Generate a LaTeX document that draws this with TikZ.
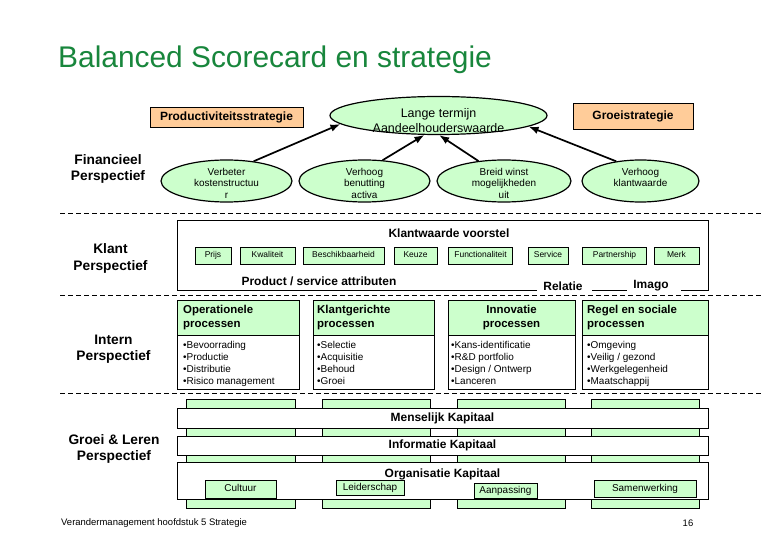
\documentclass[tikz,border=0pt]{standalone}
\usepackage{fontspec}
\setmainfont{Liberation Sans}
\usepackage{xcolor}
\usepackage{tikz}
\usetikzlibrary{shapes.geometric, arrows.meta}

\definecolor{titlegreen}{RGB}{24,134,60}
\definecolor{palegreen}{RGB}{204,255,204}
\definecolor{paleorange}{RGB}{255,204,153}
\newcommand{\setfs}[2]{\fontsize{#1}{#2}\selectfont}

\begin{document}
\begin{tikzpicture}[x=1bp, y=-1bp,
    oval/.style={ellipse, draw, line width=1.2bp, fill=palegreen, inner sep=0pt},
    ovaltxt/.style={anchor=north, align=center, inner sep=0pt, font=\setfs{10}{11.5}},
    strat/.style={draw, line width=0.8bp, fill=paleorange, inner sep=0pt, font=\bfseries\setfs{12}{14}},
    persp/.style={align=center, font=\bfseries\setfs{13.8}{16.5}},
    attr/.style={draw, line width=0.8bp, fill=palegreen, inner sep=0pt, minimum height=17bp,
                 text height=6.5bp, text depth=1.5bp, font=\setfs{8.5}{10}},
    grp/.style={inner sep=1bp, font=\bfseries\setfs{12}{14}},
    phead/.style={align=left, inner sep=2bp, font=\bfseries\setfs{11.5}{14}},
    items/.style={anchor=north west, align=left, inner sep=2bp, font=\setfs{10}{12}},
    band/.style={draw, line width=0.8bp, fill=white, inner sep=0pt, minimum width=531bp, font=\bfseries\setfs{12}{14}},
    divline/.style={line width=0.8bp, dash pattern=on 5bp off 3bp},
    goal/.style={-{Latex[length=10bp, width=7.5bp]}, line width=1.7bp},
]
\path[fill=white, use as bounding box] (0,0) rectangle (780,540);

% ---- Titel ----
\node[anchor=base west, inner sep=0pt, text=titlegreen, font=\setfs{30}{36}] (titel) at (58,68) {Balanced Scorecard en strategie};

% ---- Perspectieven ----
\node[persp] (finp) at (108,169) {Financieel\\Perspectief};
\node[persp] (klantp) at (110.5,258.5) {Klant\\Perspectief};
\node[persp] (internp) at (113.5,349) {Intern\\Perspectief};
\node[persp] (groeip) at (114,449) {Groei \& Leren\\Perspectief};

\foreach \yy in {213,295,393} {
    \draw[divline] (60,\yy) -- (763,\yy);
}

% ---- Financieel ----
\node[strat, minimum width=153bp, minimum height=20bp] (prod) at (226.5,117) {Productiviteitsstrategie};
\node[strat, minimum width=120bp, minimum height=26bp] (groei) at (633,116) {Groeistrategie};

\node[oval, minimum width=217bp, minimum height=38bp] (lange) at (438.5,115.5) {};
\node[ovaltxt, font=\setfs{12.5}{15}] (lange-t) at ([yshift=7.5bp]lange.center) {Lange termijn\\Aandeelhouderswaarde};

\foreach \nm/\cx/\w/\txt in {verbeter/226.5/131/{Verbeter\\kostenstructuu\\r},
                             benutting/364.5/131/{Verhoog\\benutting\\activa},
                             winst/504/134/{Breid winst\\mogelijkheden\\uit},
                             klant/640.5/117/{Verhoog\\klantwaarde}} {
    \node[oval, minimum width=\w bp, minimum height=42bp] (\nm) at (\cx,181) {};
    \node[ovaltxt] (\nm-t) at ([yshift=13bp]\nm.center) {\txt};
}

\draw[goal] (verbeter.36) -- (lange.185);
\draw[goal] (benutting.49) -- (lange.234);
\draw[goal] (winst.142) -- (lange.272);
\draw[goal] (klant.141) -- (lange.353);

% ---- Klant ----
\draw[line width=0.8bp] (537,290) -- (177,290) -- (177,220) -- (708,220) -- (708,290) -- (681,290);
\draw[line width=0.8bp] (592,290) -- (627,290);
\node[grp] (voorstel) at (449,233) {Klantwaarde voorstel};
\foreach \nm/\cx/\w/\txt in {prijs/213/36/Prijs, kwaliteit/267.5/55/Kwaliteit, beschik/343.5/81/Beschikbaarheid,
                             keuze/415.5/43/Keuze, functie/480.5/64/Functionaliteit, service/548/40/Service,
                             partner/614.5/64/Partnership, merk/676.5/45/Merk} {
    \node[attr, minimum width=\w bp] (\nm) at (\cx,255.5) {\txt};
}
\node[grp] (attrib) at (319,281) {Product / service attributen};
\node[grp] (relatie) at (563,286) {Relatie};
\node[grp] (imago) at (651,286) {Imago};

% ---- Intern ----
\foreach \xa/\xb in {177/299, 313/434, 448/575, 582/708} {
    \draw[line width=0.8bp, fill=palegreen] (\xa,300) rectangle (\xb,335);
    \draw[line width=0.8bp] (\xa,335) rectangle (\xb,389);
}
\node[phead, anchor=west] (opkop) at (181,318) {Operationele\\processen};
\node[phead, anchor=west] (klkop) at (315,318) {Klantgerichte\\processen};
\node[phead, align=center] (inkop) at (511.5,318) {Innovatie\\processen};
\node[phead, anchor=west] (rgkop) at (585,318) {Regel en sociale\\processen};

\node[items] (oplijst) at (181,339) {\textbullet Bevoorrading\\\textbullet Productie\\\textbullet Distributie\\\textbullet Risico management};
\node[items] (kllijst) at (315,339) {\textbullet Selectie\\\textbullet Acquisitie\\\textbullet Behoud\\\textbullet Groei};
\node[items] (inlijst) at (449,339) {\textbullet Kans-identificatie\\\textbullet R\&D portfolio\\\textbullet Design / Ontwerp\\\textbullet Lanceren};
\node[items] (rglijst) at (585,339) {\textbullet Omgeving\\\textbullet Veilig / gezond\\\textbullet Werkgelegenheid\\\textbullet Maatschappij};

% ---- Groei & Leren ----
\foreach \xa/\xb in {186/295, 322/430, 457/565, 591/699} {
    \draw[line width=0.8bp, fill=palegreen] (\xa,399) rectangle (\xb,508);
}
\node[band, minimum height=20bp] (mens) at (442.5,418) {Menselijk Kapitaal};
\node[band, minimum height=19bp] (info) at (442.5,445.5) {Informatie Kapitaal};
\draw[line width=0.8bp, fill=white] (177,462) rectangle (708,499);
\node[grp] (organisatie) at (442.5,474) {Organisatie Kapitaal};

\node[attr, minimum width=71bp, minimum height=18bp, font=\setfs{10}{12}] (cultuur) at (240.5,489) {Cultuur};
\node[attr, minimum width=68bp, minimum height=15bp, font=\setfs{10}{12}] (leider) at (370,487.5) {Leiderschap};
\node[attr, minimum width=63bp, minimum height=15bp, font=\setfs{10}{12}] (aanpas) at (505.5,490.5) {Aanpassing};
\node[attr, minimum width=102bp, minimum height=17bp, font=\setfs{10}{12}] (samen) at (645,488.5) {Samenwerking};

% ---- Voettekst ----
\node[anchor=west, inner sep=0pt, font=\setfs{9.5}{11}] (voet) at (61,523) {Verandermanagement hoofdstuk 5 Strategie};
\node[inner sep=0pt, font=\setfs{9.5}{11}] (pagina) at (688,523) {16};

\end{tikzpicture}
\end{document}
